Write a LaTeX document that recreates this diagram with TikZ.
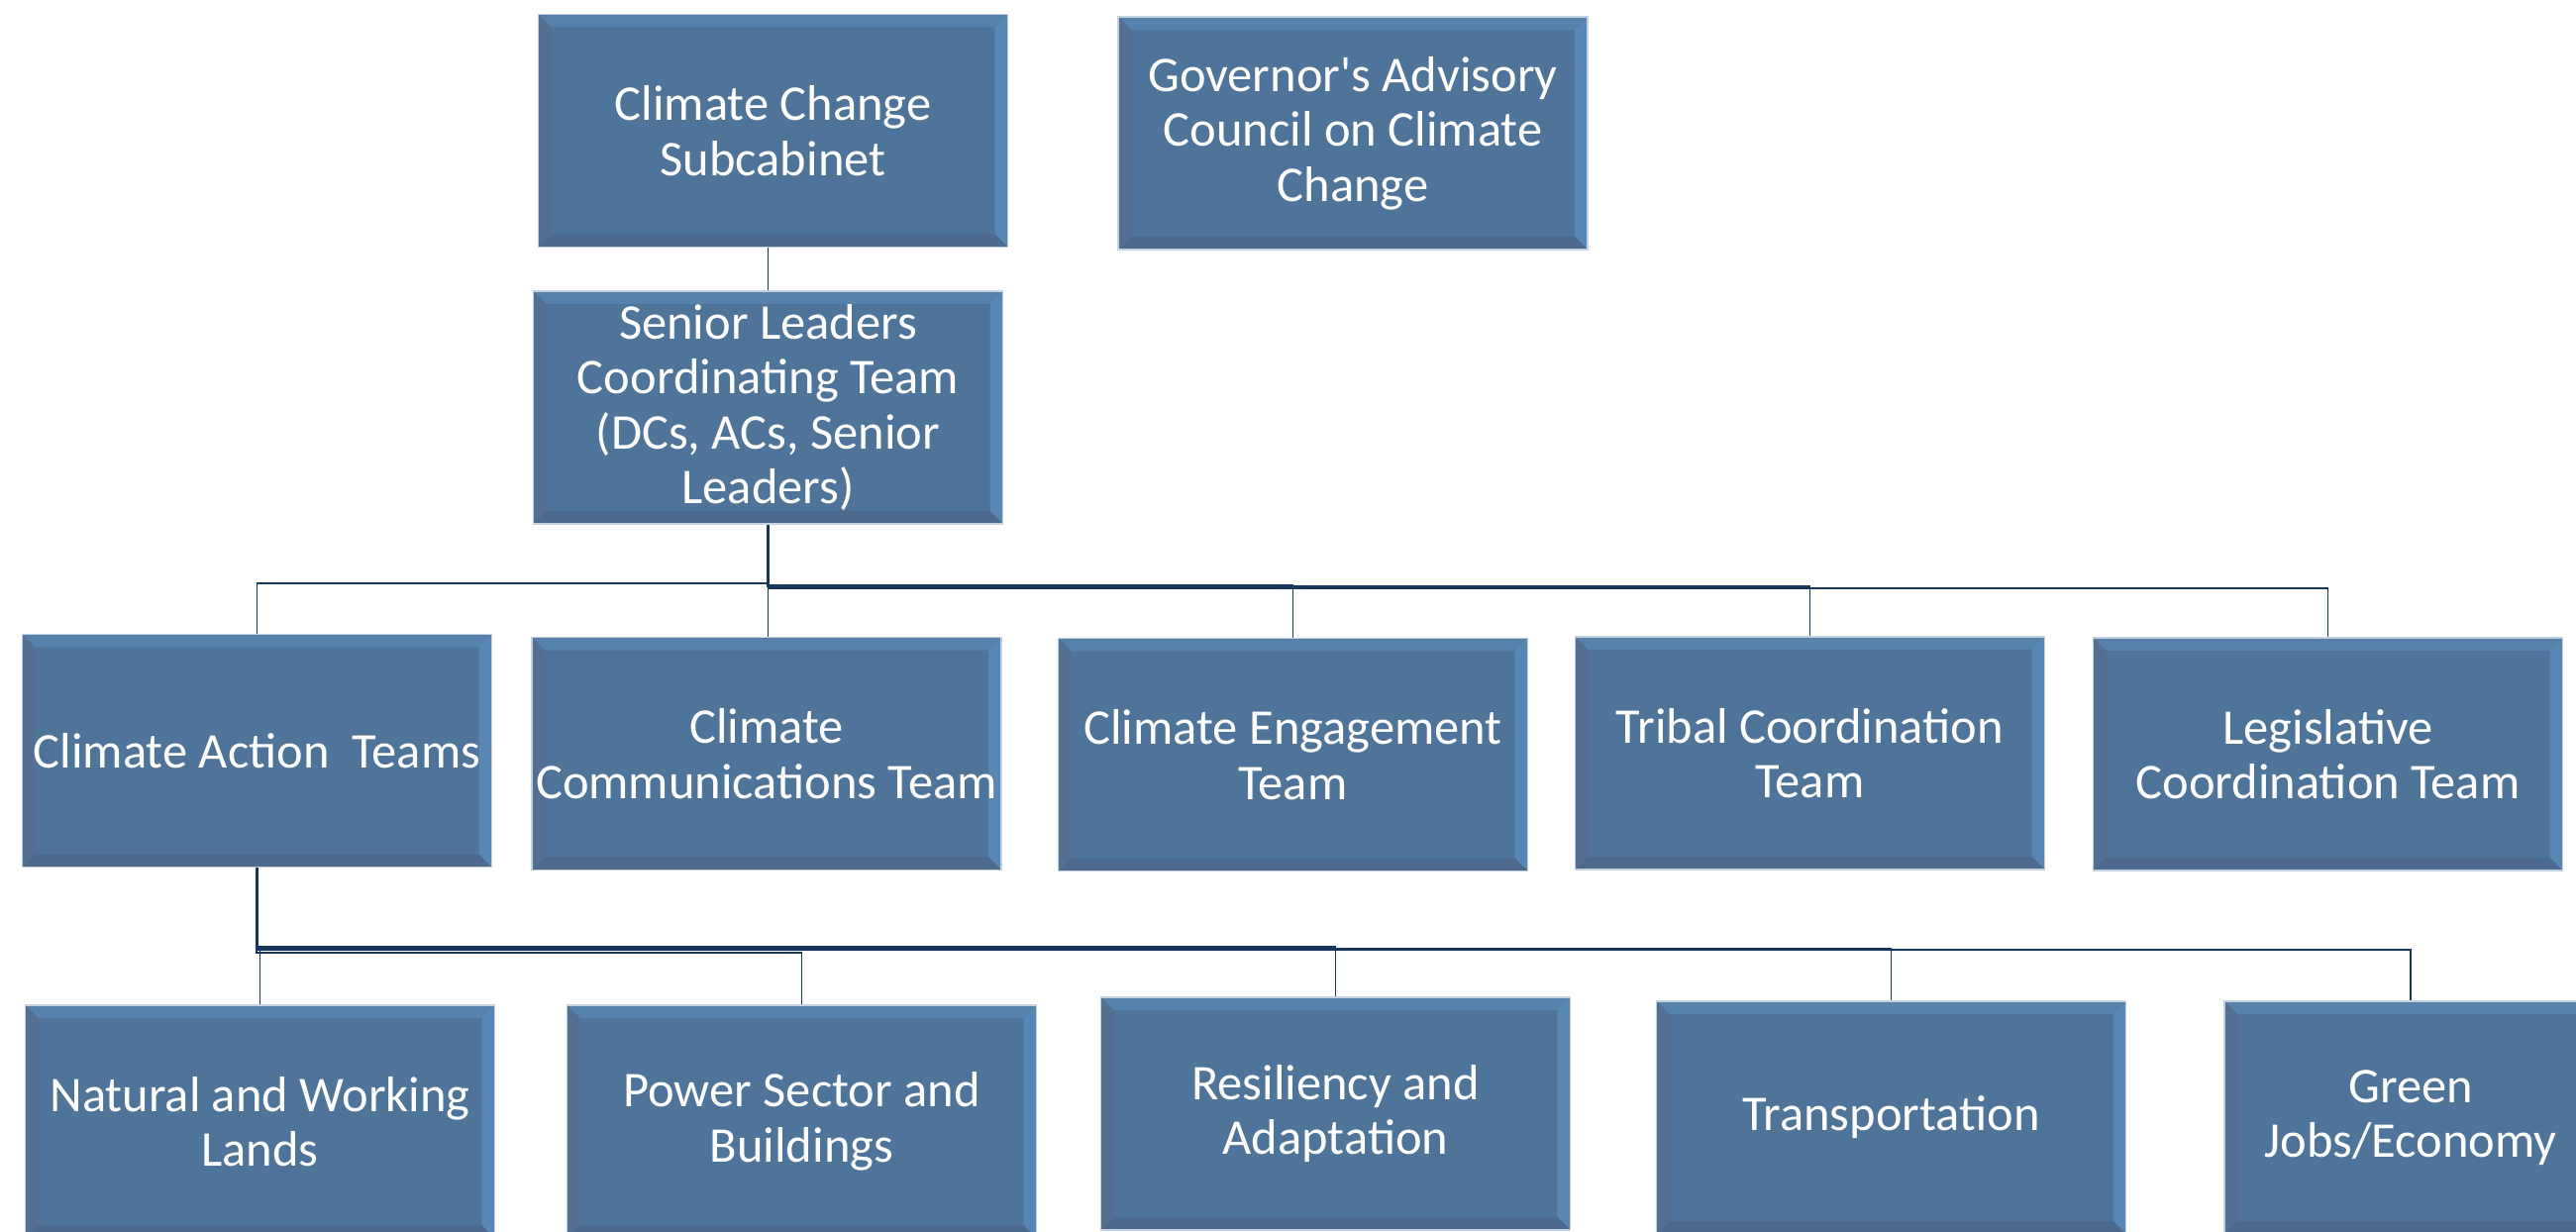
\documentclass[tikz,border=0pt]{standalone}
\usepackage{fontspec}
\setmainfont{Carlito}[Ligatures=TeXOff]
\usetikzlibrary{calc}
\definecolor{face}{HTML}{4F7499}
\definecolor{bevtop}{HTML}{5681AB}
\definecolor{bevright}{HTML}{5987B5}
\definecolor{bevbot}{HTML}{4B6A8D}
\definecolor{bevleft}{HTML}{536F92}
\definecolor{edgegray}{HTML}{C4D1DE}
\definecolor{navy}{HTML}{17365C}
\tikzset{
  orgbox/.style={draw=edgegray, line width=1.5pt, fill=face,
    minimum width=474pt, minimum height=235pt, inner sep=0pt,
    align=center, text=white, font=\fontsize{50.5pt}{55.6pt}\selectfont,
    path picture={
      \coordinate (bnw) at (path picture bounding box.north west);
      \coordinate (bne) at (path picture bounding box.north east);
      \coordinate (bse) at (path picture bounding box.south east);
      \coordinate (bsw) at (path picture bounding box.south west);
      \fill[bevtop] (bnw) -- (bne) -- ([shift={(-13pt,-13pt)}]bne) -- ([shift={(13pt,-13pt)}]bnw) -- cycle;
      \fill[bevright] (bne) -- (bse) -- ([shift={(-13pt,13pt)}]bse) -- ([shift={(-13pt,-13pt)}]bne) -- cycle;
      \fill[bevbot] (bse) -- (bsw) -- ([shift={(13pt,13pt)}]bsw) -- ([shift={(-13pt,13pt)}]bse) -- cycle;
      \fill[bevleft] (bsw) -- (bnw) -- ([shift={(13pt,-13pt)}]bnw) -- ([shift={(13pt,13pt)}]bsw) -- cycle;
    }},
  conn/.style={draw=navy, line width=1.7pt}
}
\begin{document}
\begin{tikzpicture}[x=1pt,y=-1pt]
\useasboundingbox (0,0) rectangle (2601,1244);
\clip (0,0) rectangle (2601,1244);
% top row
\node[orgbox] (sub) at (780.5,132) {Climate Change\\Subcabinet};
\node[orgbox] (gov) at (1366,134.5) {Governor's Advisory\\Council on Climate\\Change};
\node[orgbox] (sen) at (775.5,411.5) {Senior Leaders\\Coordinating Team\\(DCs, ACs, Senior\\Leaders)};
% second row
\node[orgbox] (cat) at (259.5,758) {Climate Action\ \ Teams};
\node[orgbox] (com) at (774,761) {Climate\\Communications Team};
\node[orgbox] (eng) at (1305.5,762) {Climate Engagement\\Team};
\node[orgbox] (tri) at (1827.5,760.5) {Tribal Coordination\\Team};
\node[orgbox] (leg) at (2350.5,761.5) {Legislative\\Coordination Team};
% third row
\node[orgbox] (nat) at (262.5,1132.5) {Natural and Working\\Lands};
\node[orgbox] (pow) at (809.5,1132.5) {Power Sector and\\Buildings};
\node[orgbox] (res) at (1348.5,1124.5) {Resiliency and\\Adaptation};
\node[orgbox] (tra) at (1909.5,1128.5) {Transportation};
\node[orgbox, minimum width=376pt] (gre) at (2434,1128.5) {Green\\Jobs/Economy};
% connectors
\draw[conn] (sen.north) -- (sen.north |- sub.south);
\draw[conn] (sen.south) -- ++(0,59) -| (cat.north);
\draw[conn] (sen.south) -- (sen.south |- com.north);
\draw[conn] ([xshift=0.8pt]sen.south) -- ++(0,61) -| (eng.north);
\draw[conn] ([xshift=-0.8pt]sen.south) -- ++(0,62.5) -| (tri.north);
\draw[conn] ([xshift=0.8pt]sen.south) -- ++(0,64) -| (leg.north);
\draw[conn] (cat.south) -- ++(0,81) -| (nat.north);
\draw[conn] ([xshift=-0.8pt]cat.south) -- ++(0,86) -| (pow.north);
\draw[conn] ([xshift=0.8pt]cat.south) -- ++(0,79.5) -| (res.north);
\draw[conn] ([xshift=-0.8pt]cat.south) -- ++(0,82) -| (tra.north);
\draw[conn] (cat.south) -- ++(0,83) -| (gre.north);
\end{tikzpicture}
\end{document}
